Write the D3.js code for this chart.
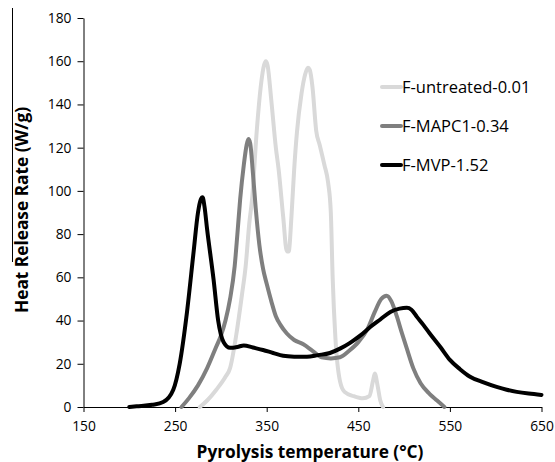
<!DOCTYPE html>
<html>
<head>
<meta charset="utf-8">
<script src="https://cdn.jsdelivr.net/npm/d3@7/dist/d3.min.js"></script>
<style>
  html, body { margin: 0; padding: 0; background: #fff; }
  svg { display: block; font-family: "Open Sans", "Noto Sans", sans-serif; }
</style>
</head>
<body>
<svg id="chart" width="555" height="462"></svg>
<script>
// ---- data ----
const xTicks = [150, 250, 350, 450, 550, 650];
const yTicks = [0, 20, 40, 60, 80, 100, 120, 140, 160, 180];
const seriesNames = ["F-untreated-0.01", "F-MAPC1-0.34", "F-MVP-1.52"];

const untreatedT = [277, 285, 295, 305, 310, 317, 323, 327, 331, 334, 339, 344, 347, 349, 351, 355, 360, 363, 368, 372, 374, 377, 380, 383, 388, 392, 395, 397, 400, 404, 408, 413, 417, 420, 422, 425, 430, 435, 445, 455, 462, 466, 468, 471, 474, 477];
const untreatedV = [0, 3, 8, 14, 18, 34, 52, 65, 85, 96, 127, 150, 158, 160, 158, 142, 120, 110, 88, 72, 72, 88, 110, 127, 145, 154, 157, 156, 148, 128, 121, 112, 104, 90, 60, 32, 12, 7, 5, 4, 5, 12, 15.5, 10, 3, 0];

const mapcT = [257, 265, 275, 285, 295, 300, 305, 310, 315, 318, 321, 325, 328, 330, 332, 335, 338, 342, 346, 350, 355, 360, 365, 372, 380, 390, 400, 410, 420, 430, 440, 450, 460, 468, 475, 481, 486, 492, 497, 503, 510, 518, 528, 536, 544];
const mapcV = [0, 4, 10, 18, 28, 33, 40, 50, 65, 80, 96, 112, 121, 124, 122, 108, 92, 75, 64, 57, 49, 42, 38, 34, 31, 29, 26, 23, 22.5, 23, 26, 30, 36, 44, 50, 51.5, 49, 42, 35, 27, 18, 11, 6, 3, 0];

const mvpT = [200, 208, 225, 237, 248, 255, 263, 270, 275, 278, 280, 282, 285, 292, 297, 303, 310, 318, 325, 335, 346, 357, 368, 380, 394, 406, 419, 430, 441, 452, 463, 474, 485, 495, 503, 508, 514, 521, 528, 540, 550, 561, 572, 586, 601, 612, 623, 636, 650];
const mvpV = [0, 0.3, 1, 2.3, 8, 20, 44, 71, 90, 96, 97, 93, 82, 59, 40, 30, 27.4, 27.8, 28.5, 27.5, 26.4, 25, 23.7, 23.3, 23.2, 24, 25, 27, 29.7, 33, 37, 40.5, 44, 45.5, 45.9, 45, 41.7, 38, 34, 27.5, 21.8, 17.5, 14, 11.5, 9.3, 8, 7, 6.2, 5.6];

// ---- layout ----
const svg = d3.select("#chart");
const margin = { left: 83.5, right: 13.5, top: 18, bottom: 55 };
const W = 555, H = 462;
const x = d3.scaleLinear().domain([150, 650]).range([margin.left, W - margin.right]);
const y = d3.scaleLinear().domain([0, 180]).range([H - margin.bottom, margin.top]);

const seriesData = [
  { name: seriesNames[0], t: untreatedT, v: untreatedV, color: "#d9d9d9" },
  { name: seriesNames[1], t: mapcT, v: mapcV, color: "#7f7f7f" },
  { name: seriesNames[2], t: mvpT, v: mvpV, color: "#000000" }
];

// axes
const xAxis = d3.axisBottom(x).tickValues(xTicks).tickSize(5).tickSizeOuter(0);
const yAxis = d3.axisLeft(y).tickValues(yTicks).tickSize(6).tickSizeOuter(0);

const gx = svg.append("g").attr("transform", `translate(0,${y(0)})`).call(xAxis);
const gy = svg.append("g").attr("transform", `translate(${x(150)},0)`).call(yAxis);
[gx, gy].forEach(g => {
  g.selectAll("path, line").attr("stroke", "#000").attr("stroke-width", 1);
  g.selectAll("text").attr("fill", "#000").style("font-size", "13.8px")
   .style("font-family", "'Open Sans', sans-serif");
});
gx.selectAll("text").attr("dy", "1.15em");
gy.selectAll("text").attr("dx", "-3px");

// lines
const line = d3.line()
  .x(d => x(d[0]))
  .y(d => y(d[1]))
  .curve(d3.curveMonotoneX);

seriesData.forEach(s => {
  const pts = s.t.map((t, i) => [t, s.v[i]]);
  svg.append("path")
    .datum(pts)
    .attr("fill", "none")
    .attr("stroke", s.color)
    .attr("stroke-width", 4)
    .attr("stroke-linejoin", "round")
    .attr("stroke-linecap", "round")
    .attr("d", line);
});

// legend
const legendY = [87, 126, 165];
seriesData.forEach((s, i) => {
  svg.append("line")
    .attr("x1", 382).attr("x2", 401)
    .attr("y1", legendY[i]).attr("y2", legendY[i])
    .attr("stroke", s.color).attr("stroke-width", 4).attr("stroke-linecap", "round");
  svg.append("text")
    .attr("x", 402).attr("y", legendY[i])
    .attr("dy", "0.36em")
    .style("font-size", "16.5px")
    .attr("fill", "#000")
    .text(s.name);
});

// axis titles
svg.append("text")
  .attr("x", 310).attr("y", 458)
  .attr("text-anchor", "middle")
  .style("font-size", "17.3px").style("font-weight", "bold")
  .text("Pyrolysis temperature (°C)");

svg.append("text")
  .attr("transform", `translate(21.5,210) rotate(-90)`)
  .attr("text-anchor", "middle")
  .attr("dy", "0.36em")
  .style("font-size", "17.3px").style("font-weight", "bold")
  .text("Heat Release Rate (W/g)");

// stray rule at top-left present in the reference
svg.append("line")
  .attr("x1", 12.5).attr("x2", 12.5).attr("y1", 8).attr("y2", 262)
  .attr("stroke", "#000").attr("stroke-width", 1);
</script>
</body>
</html>
